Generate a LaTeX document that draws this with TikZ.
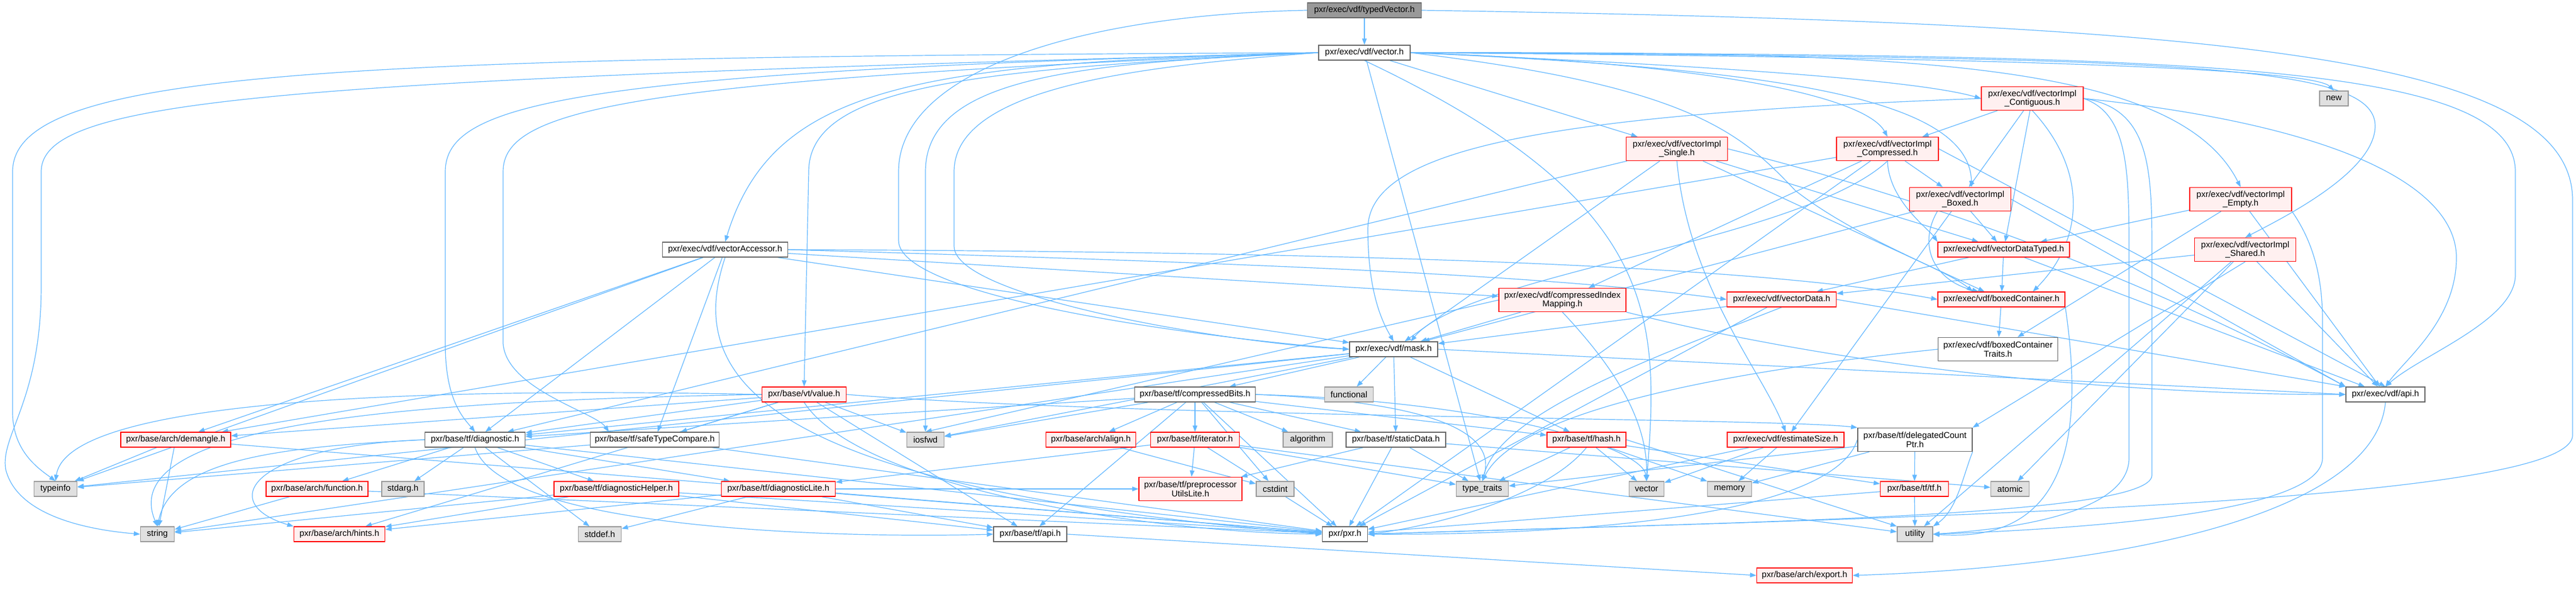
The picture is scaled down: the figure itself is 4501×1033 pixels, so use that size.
\documentclass[tikz,border=0pt]{standalone}
\usepackage{fontspec}
\setmainfont{Liberation Sans}
\usetikzlibrary{arrows.meta}
\pgfdeclarelayer{paper}
\pgfdeclarelayer{bg}
\pgfsetlayers{paper,bg,main}
\definecolor{edgec}{HTML}{63B8FF}
\definecolor{redb}{HTML}{FF0000}
\definecolor{redf}{HTML}{FFF0F0}
\definecolor{grayf}{HTML}{E0E0E0}
\definecolor{grayb}{HTML}{999999}
\definecolor{darkb}{HTML}{666666}
\definecolor{rootf}{HTML}{999999}
\begin{document}
\begin{tikzpicture}[x=1pt,y=-1pt,font=\fontsize{15}{15.5}\selectfont,
  box/.style={rectangle,inner sep=0pt,line width=1.4pt,align=center,minimum height=26pt},
  hdr/.style={box,fill=white,draw=darkb},
  redn/.style={box,fill=redf,draw=redb},
  sysn/.style={box,fill=grayf,draw=grayb},
  rootn/.style={box,fill=rootf,draw=darkb},
  tall/.style={minimum height=41pt},
  dep/.style={draw=edgec,line width=1.2pt,-{Triangle[length=11pt,width=8pt]}}]
\useasboundingbox (0,0) rectangle (4501,1033);
\begin{pgfonlayer}{paper}
\fill[white] (0,0) rectangle (4501,1033);
\end{pgfonlayer}
% nodes
\node[rootn,minimum width=199pt] (tv) at (2384,18) {pxr/exec/vdf/typedVector.h};
\node[hdr,minimum width=160pt] (v) at (2384,92) {pxr/exec/vdf/vector.h};
\node[hdr,minimum width=219pt] (acc) at (1267,436) {pxr/exec/vdf/vectorAccessor.h};
\node[redn,tall,minimum width=177pt] (sgl) at (2930,260) {pxr/exec/vdf/vectorImpl\\\_Single.h};
\node[redn,tall,minimum width=178pt] (cmp) at (3298,260) {pxr/exec/vdf/vectorImpl\\\_Compressed.h};
\node[redn,tall,minimum width=178pt] (ctg) at (3551,172) {pxr/exec/vdf/vectorImpl\\\_Contiguous.h};
\node[sysn,minimum width=50pt] (new) at (4078,172) {new};
\node[redn,tall,minimum width=177pt] (bxd) at (3425,348) {pxr/exec/vdf/vectorImpl\\\_Boxed.h};
\node[redn,tall,minimum width=178pt] (emp) at (3915,348) {pxr/exec/vdf/vectorImpl\\\_Empty.h};
\node[redn,minimum width=230pt] (vdt) at (3501,436) {pxr/exec/vdf/vectorDataTyped.h};
\node[redn,tall,minimum width=177pt] (shd) at (3923,436) {pxr/exec/vdf/vectorImpl\\\_Shared.h};
\node[redn,tall,minimum width=222pt] (cim) at (2730,524) {pxr/exec/vdf/compressedIndex\\Mapping.h};
\node[redn,minimum width=191pt] (vd) at (3113,523) {pxr/exec/vdf/vectorData.h};
\node[redn,minimum width=222pt] (bc) at (3497,523) {pxr/exec/vdf/boxedContainer.h};
\node[hdr,tall,minimum width=209pt] (bct) at (3491,610) {pxr/exec/vdf/boxedContainer\\Traits.h};
\node[hdr,minimum width=154pt] (mask) at (2435,610) {pxr/exec/vdf/mask.h};
\node[hdr,minimum width=138pt] (vapi) at (4168,689) {pxr/exec/vdf/api.h};
\node[sysn,minimum width=85pt] (func) at (2357,689) {functional};
\node[redn,minimum width=147pt] (val) at (1405,689) {pxr/base/vt/value.h};
\node[hdr,minimum width=211pt] (cbits) at (2088,689) {pxr/base/tf/compressedBits.h};
\node[redn,minimum width=192pt] (dem) at (307,768) {pxr/base/arch/demangle.h};
\node[hdr,minimum width=175pt] (diag) at (830,768) {pxr/base/tf/diagnostic.h};
\node[hdr,minimum width=225pt] (stc) at (1144,768) {pxr/base/tf/safeTypeCompare.h};
\node[sysn,minimum width=65pt] (iosfwd) at (1617,768) {iosfwd};
\node[redn,minimum width=157pt] (align) at (1906,768) {pxr/base/arch/align.h};
\node[redn,minimum width=155pt] (iter) at (2088,768) {pxr/base/tf/iterator.h};
\node[sysn,minimum width=86pt] (algo) at (2285,768) {algorithm};
\node[hdr,minimum width=174pt] (sd) at (2439,768) {pxr/base/tf/staticData.h};
\node[redn,minimum width=138pt] (hash) at (2772,768) {pxr/base/tf/hash.h};
\node[redn,minimum width=204pt] (est) at (3120,768) {pxr/exec/vdf/estimateSize.h};
\node[hdr,tall,minimum width=200pt] (dcp) at (3346,768) {pxr/base/tf/delegatedCount\\Ptr.h};
\node[sysn,minimum width=75pt] (tinfo) at (97,854) {typeinfo};
\node[redn,minimum width=178pt] (fn) at (554,854) {pxr/base/arch/function.h};
\node[sysn,minimum width=74pt] (stdarg) at (704,854) {stdarg.h};
\node[redn,minimum width=218pt] (dh) at (1077,854) {pxr/base/tf/diagnosticHelper.h};
\node[redn,minimum width=199pt] (dl) at (1360,854) {pxr/base/tf/diagnosticLite.h};
\node[redn,tall,minimum width=180pt] (ppu) at (2080,854) {pxr/base/tf/preprocessor\\UtilsLite.h};
\node[sysn,minimum width=66pt] (cstdint) at (2228,854) {cstdint};
\node[sysn,minimum width=91pt] (tt) at (2590,854) {type\_traits};
\node[sysn,minimum width=61pt] (vec) at (2877,854) {vector};
\node[sysn,minimum width=77pt] (mem) at (3022,854) {memory};
\node[redn,minimum width=119pt] (tf) at (3345,854) {pxr/base/tf/tf.h};
\node[sysn,minimum width=67pt] (atomic) at (3512,854) {atomic};
\node[sysn,minimum width=59pt] (str) at (275,933) {string};
\node[redn,minimum width=159pt] (hints) at (593,933) {pxr/base/arch/hints.h};
\node[sysn,minimum width=75pt] (stddef) at (1048,933) {stddef.h};
\node[hdr,minimum width=128pt] (tapi) at (1800,933) {pxr/base/tf/api.h};
\node[hdr,minimum width=79pt] (pxr) at (2350,933) {pxr/pxr.h};
\node[sysn,minimum width=62pt] (util) at (3346,933) {utility};
\node[redn,minimum width=167pt] (exp) at (3153,1005) {pxr/base/arch/export.h};
% edges
\begin{pgfonlayer}{bg}
\foreach \s/\t in {tv/v, v/sgl, v/tt,
 acc/dem, acc/diag, acc/stc, acc/tinfo, acc/cim, acc/mask,
 sgl/mask, sgl/vdt, sgl/bc, sgl/diag,
 ctg/cmp, ctg/bxd, ctg/vdt,
 cmp/bxd, cmp/cim, cmp/pxr, cmp/dem,
 bxd/vdt, bxd/mask, bxd/est,
 emp/vdt, emp/bct, emp/vapi,
 shd/vd, shd/atomic, shd/util, shd/vapi,
 vdt/vd, vdt/bc, vdt/vapi,
 cim/mask, vd/mask, vd/pxr, bc/bct,
 mask/func, mask/sd, mask/cbits, mask/hash, mask/diag, mask/iosfwd, mask/tinfo, mask/str,
 val/iosfwd, val/stc, val/diag, val/dem, val/hints, val/tapi,
 cbits/align, cbits/iter, cbits/iosfwd, cbits/algo, cbits/sd, cbits/hash, cbits/cstdint, cbits/pxr, cbits/tapi, cbits/diag,
 dem/tinfo, dem/str, dem/pxr,
 diag/fn, diag/stdarg, diag/dh, diag/dl, diag/stddef, diag/pxr,
 stc/tinfo, stc/pxr, align/cstdint,
 iter/dl, iter/ppu, iter/tt, iter/util, iter/pxr,
 sd/pxr, sd/tt, sd/ppu, sd/atomic,
 hash/tt, hash/vec, hash/mem, hash/tf,
 est/vec, est/mem, est/pxr,
 dcp/tf, dcp/mem, dcp/tt,
 fn/str, fn/pxr,
 dh/str, dh/hints, dh/tapi, dh/pxr,
 dl/tapi, dl/pxr, dl/hints, dl/ppu, dl/stddef,
 tf/util, tf/pxr}
 \draw[dep] (\s) -- (\t);
% typedVector
\draw[dep] (tv.east) .. controls (3900,40) and (4495,100) .. (4495,350) -- (4495,760) .. controls (4495,880) and (3300,905) .. (pxr.east);
\draw[dep] (tv.west) .. controls (1900,25) and (1570,120) .. (1570,300) -- (1570,420) .. controls (1570,520) and (2100,590) .. (mask.west);
% vector.h
\draw[dep] (v.west) .. controls (600,100) and (22,120) .. (22,300) -- (22,720) .. controls (22,790) and (70,820) .. (tinfo.north);
\draw[dep] (v.west) .. controls (500,140) and (72,170) .. (72,300) -- (72,500) .. controls (72,700) and (0,760) .. (10,820) .. controls (30,900) and (150,925) .. (str.west);
\draw[dep] (v.west) .. controls (1000,125) and (778,180) .. (778,300) -- (778,600) .. controls (778,700) and (810,730) .. (diag.north);
\draw[dep] (v.west) .. controls (1100,140) and (879,190) .. (879,300) -- (879,600) .. controls (885,680) and (1040,720) .. ([xshift=-80pt]stc.north);
\draw[dep] (v.west) .. controls (1700,120) and (1413,150) .. (1413,300) -- (val.north);
\draw[dep] (v.west) .. controls (1900,110) and (1617,130) .. (1617,300) -- (iosfwd.north);
\draw[dep] (v.west) .. controls (2000,115) and (1667,150) .. (1667,300) -- (1667,430) .. controls (1667,520) and (2150,600) .. (mask.west);
\draw[dep] (v.west) .. controls (1600,110) and (1350,150) .. (acc.north);
\draw[dep] (v.east) .. controls (3500,100) and (4040,120) .. (new.north);
\draw[dep] (v.east) .. controls (3800,95) and (4395,105) .. (4395,300) -- (4395,480) .. controls (4395,560) and (4230,620) .. (vapi.north);
\draw[dep] (v.east) .. controls (3800,100) and (4150,110) .. (4150,220) .. controls (4150,300) and (3990,380) .. (shd.north);
\draw[dep] (v.east) .. controls (3300,90) and (3800,100) .. (emp.north);
\draw[dep] (v.east) .. controls (3000,115) and (3350,140) .. (ctg.west);
\draw[dep] (v.east) .. controls (3100,120) and (3440,170) .. ([xshift=20pt]bxd.north);
\draw[dep] (v.east) .. controls (3000,110) and (3260,170) .. (cmp.north);
\draw[dep] (v.east) .. controls (2950,150) and (3040,230) .. (3137,333) .. controls (3250,420) and (3400,470) .. ([xshift=-50pt]bc.north);
\draw[dep] (v.south) .. controls (2900,350) and (2900,550) .. (vec.north);
% vectorAccessor
\draw[dep] (acc.east) .. controls (2200,460) and (2700,480) .. (vd.west);
\draw[dep] (acc.east) .. controls (2500,440) and (3100,470) .. (bc.west);
\draw[dep] (acc.south) .. controls (1200,650) and (1300,850) .. (pxr.west);
% impl headers
\draw[dep] (sgl.east) .. controls (3300,330) and (3700,460) .. (vapi.north west);
\draw[dep] (sgl.south) .. controls (2950,500) and (3080,650) .. (est.north);
\draw[dep] (ctg.west) .. controls (2700,200) and (2390,260) .. (2390,400) .. controls (2390,520) and (2420,570) .. (mask.north);
\draw[dep] (ctg.east) .. controls (4100,220) and (4292,330) .. (4292,450) .. controls (4292,560) and (4200,630) .. (vapi.north);
\draw[dep] (ctg.east) .. controls (3720,200) and (3720,300) .. (3720,450) -- (3720,800) .. controls (3720,900) and (3500,925) .. (util.east);
\draw[dep] (ctg.east) .. controls (3760,190) and (3760,300) .. (3760,450) -- (3760,830) .. controls (3760,905) and (3000,912) .. (pxr.east);
\draw[dep] (ctg.south) .. controls (3650,300) and (3640,420) .. ([xshift=55pt]bc.north);
\draw[dep] (cmp.south) .. controls (3300,350) and (3370,400) .. (vdt.north west);
\draw[dep] (cmp.south) .. controls (3150,420) and (2560,480) .. ([xshift=30pt]mask.north);
\draw[dep] (cmp.east) -- (vapi.north);
\draw[dep] ([xshift=-40pt]bxd.south) .. controls (3350,430) and (3380,490) .. ([xshift=-40pt]bc.north);
\draw[dep] (bxd.east) -- (vapi.north west);
\draw[dep] (emp.south east) .. controls (4040,420) and (4058,480) .. (4058,560) -- (4058,800) .. controls (4058,900) and (3600,925) .. (util.east);
\draw[dep] (shd.south) -- (dcp.north east);
\draw[dep] (cim.south) .. controls (2800,620) and (2880,720) .. (vec.north);
\draw[dep] (cim.south east) .. controls (3300,660) and (3800,690) .. (vapi.west);
\draw[dep] (cim.west) -- (iosfwd.north);
\draw[dep] (vd.east) -- (vapi.north west);
\draw[dep] (vd.south) .. controls (2900,620) and (2620,720) .. (tt.north);
\draw[dep] (bc.south east) .. controls (3640,750) and (3620,950) .. (util.east);
\draw[dep] (bct.west) .. controls (3000,650) and (2650,720) .. (tt.north);
\draw[dep] (mask.east) -- (vapi.west);
% value / base
\draw[dep] (val.west) .. controls (900,680) and (120,680) .. (tinfo.north);
\draw[dep] (val.west) .. controls (700,700) and (200,740) .. (str.north);
\draw[dep] (val.east) .. controls (2000,730) and (3100,730) .. (dcp.north west);
\draw[dep] (val.south) .. controls (1500,850) and (2000,930) .. (pxr.west);
\draw[dep] (cbits.east) .. controls (2600,700) and (2870,780) .. (vec.north);
\draw[dep] (cbits.east) .. controls (2450,700) and (2620,740) .. (tt.north);
\draw[dep] (hash.east) -- (util.north west);
\draw[dep] (hash.south) .. controls (2700,870) and (2500,920) .. (pxr.east);
\draw[dep] (dcp.south east) .. controls (3430,830) and (3420,890) .. (util.north east);
\draw[dep] (dcp.west) .. controls (3200,910) and (2700,935) .. (pxr.east);
\draw[dep] (diag.west) .. controls (500,780) and (300,800) .. (str.north);
\draw[dep] (diag.west) .. controls (430,780) and (380,880) .. (hints.north west);
\draw[dep] (diag.south) .. controls (880,930) and (1500,940) .. (tapi.west);
\draw[dep] (vapi.south) .. controls (4150,900) and (3700,990) .. (exp.east);
\draw[dep] (tapi.east) -- (exp.west);
\end{pgfonlayer}
\end{tikzpicture}
\end{document}
